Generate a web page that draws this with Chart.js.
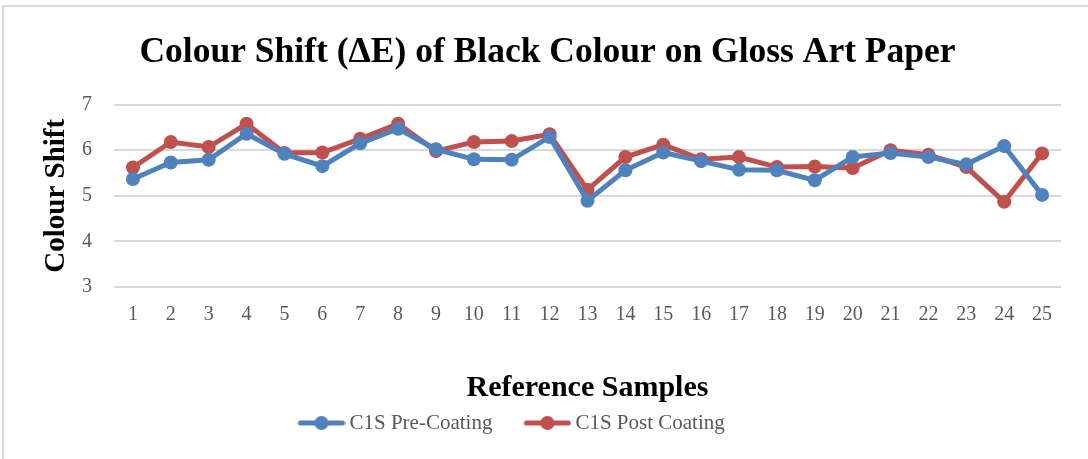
<!DOCTYPE html>
<html>
<head>
<meta charset="utf-8">
<script src="https://cdn.jsdelivr.net/npm/chart.js@4.4.0/dist/chart.umd.min.js"></script>
<style>
  html, body { margin: 0; padding: 0; background: #ffffff; }
  #wrap { width: 1088px; height: 459px; }
</style>
</head>
<body>
<div id="wrap"><canvas id="chart" width="1088" height="459"></canvas></div>
<script>
// sample numbers on the x axis
const samples = [
  "1", "2", "3", "4", "5", "6", "7", "8", "9", "10", "11", "12", "13",
  "14", "15", "16", "17", "18", "19", "20", "21", "22", "23", "24", "25",
];
// colour shift values
const preCoating = [
  5.37, 5.73, 5.79, 6.36, 5.92, 5.65, 6.15, 6.47, 6.02, 5.8, 5.79, 6.29, 4.89,
  5.56, 5.95, 5.76, 5.57, 5.56, 5.34, 5.85, 5.94, 5.85, 5.69, 6.09, 5.02,
];
const postCoating = [
  5.62, 6.18, 6.07, 6.58, 5.94, 5.95, 6.25, 6.58, 5.98, 6.18, 6.2, 6.35, 5.13,
  5.85, 6.12, 5.8, 5.85, 5.63, 5.64, 5.61, 6.0, 5.9, 5.63, 4.87, 5.93,
];
const yTicks = [3, 4, 5, 6, 7];

const BLUE = "#4f81bd";
const RED = "#c0504d";
const GREY_TEXT = "#595959";
const SERIF = "'Liberation Serif', 'DejaVu Serif', serif";

const LEGEND_BOX = 48;
const LEGEND_PAD = 24.5;

// legend marker: short line with a dot. the picture is a bit wider than the
// legend box so the marker sits close to its text
function legendMarker(color) {
  const c = document.createElement("canvas");
  c.width = LEGEND_BOX + 13;
  c.height = 16;
  const g = c.getContext("2d");
  const x0 = c.width - LEGEND_BOX;
  g.strokeStyle = color;
  g.lineWidth = 5;
  g.lineCap = "round";
  g.beginPath();
  g.moveTo(x0 + 3, 8);
  g.lineTo(c.width - 3, 8);
  g.stroke();
  g.fillStyle = color;
  g.beginPath();
  g.arc(x0 + LEGEND_BOX / 2, 8, 7, 0, Math.PI * 2);
  g.fill();
  return c;
}

// light frame on the left and top edge; title and legend nudged into place
const framePlugin = {
  id: "frame",
  afterLayout(chart) {
    const title = chart.titleBlock;
    if (title) {
      title.left = 0;
      title.right = 1095;
    }
    const legend = chart.legend;
    if (!legend || !legend.lineWidths) return;
    const startX = 291;
    legend.left = 0;
    legend.right = 2 * startX + legend.lineWidths[0] - LEGEND_PAD;
    legend.top = 388; // item centre at ~423
  },
  beforeDraw(chart) {
    const ctx = chart.ctx;
    ctx.save();
    ctx.fillStyle = "#ffffff";
    ctx.fillRect(0, 0, chart.width, chart.height);
    ctx.strokeStyle = "#d9d9d9";
    ctx.lineWidth = 2;
    ctx.beginPath();
    ctx.moveTo(3, chart.height);
    ctx.lineTo(3, 6);
    ctx.lineTo(chart.width, 6);
    ctx.stroke();
    ctx.restore();
  },
};

const chartOptions = {
  responsive: false,
  animation: false,
  layout: {
    padding: { left: 0, right: 27, top: 0, bottom: 0 },
  },
  scales: {
    x: {
      offset: true,
      grid: { display: false },
      border: { display: false },
      ticks: {
        padding: 8,
        color: GREY_TEXT,
        font: { family: SERIF, size: 20 },
        autoSkip: false,
        maxRotation: 0,
      },
      title: {
        display: true,
        text: "Reference Samples",
        color: "#000000",
        font: { family: SERIF, size: 30, weight: "bold", lineHeight: 1 },
        padding: { top: 40, bottom: 0 },
      },
      afterFit(scale) {
        scale.height = 116.5;
      },
    },
    y: {
      min: 3,
      max: 7,
      afterBuildTicks(scale) {
        scale.ticks = yTicks.map((v) => ({ value: v }));
      },
      grid: {
        color: "#d9d9d9",
        lineWidth: 2,
        drawTicks: false,
      },
      border: { display: false },
      ticks: {
        padding: 22,
        color: GREY_TEXT,
        font: { family: SERIF, size: 20 },
      },
      title: {
        display: true,
        text: "Colour Shift",
        color: "#000000",
        font: { family: SERIF, size: 29, weight: "bold", lineHeight: 1 },
        padding: { top: 42, bottom: 0 },
      },
      afterFit(scale) {
        scale.width = 114;
      },
    },
  },
  plugins: {
    title: {
      display: true,
      text: "Colour Shift (ΔE) of Black Colour on Gloss Art Paper",
      color: "#000000",
      font: { family: SERIF, size: 35.5, weight: "bold" },
      padding: { top: 32, bottom: 30 },
    },
    legend: {
      position: "bottom",
      labels: {
        color: GREY_TEXT,
        font: { family: SERIF, size: 21 },
        usePointStyle: true,
        pointStyleWidth: LEGEND_BOX,
        padding: LEGEND_PAD,
        generateLabels(chart) {
          return chart.data.datasets.map((ds, i) => ({
            text: ds.label,
            fontColor: GREY_TEXT,
            pointStyle: legendMarker(ds.borderColor),
            strokeStyle: ds.borderColor,
            fillStyle: ds.borderColor,
            lineWidth: 0,
            datasetIndex: i,
            hidden: false,
          }));
        },
      },
    },
    tooltip: { enabled: false },
  },
};

const chartConfig = {
  type: "line",
  data: {
    labels: samples,
    datasets: [
      {
        label: "C1S Pre-Coating",
        data: preCoating,
        borderColor: BLUE,
        backgroundColor: BLUE,
        borderWidth: 5,
        pointRadius: 7,
        pointBorderWidth: 0,
        tension: 0,
      },
      {
        label: "C1S Post Coating",
        data: postCoating,
        borderColor: RED,
        backgroundColor: RED,
        borderWidth: 5,
        pointRadius: 7,
        pointBorderWidth: 0,
        tension: 0,
      },
    ],
  },
  options: chartOptions,
  plugins: [framePlugin],
};

window.colourChart = new Chart(document.getElementById("chart"), chartConfig);
</script>
</body>
</html>
